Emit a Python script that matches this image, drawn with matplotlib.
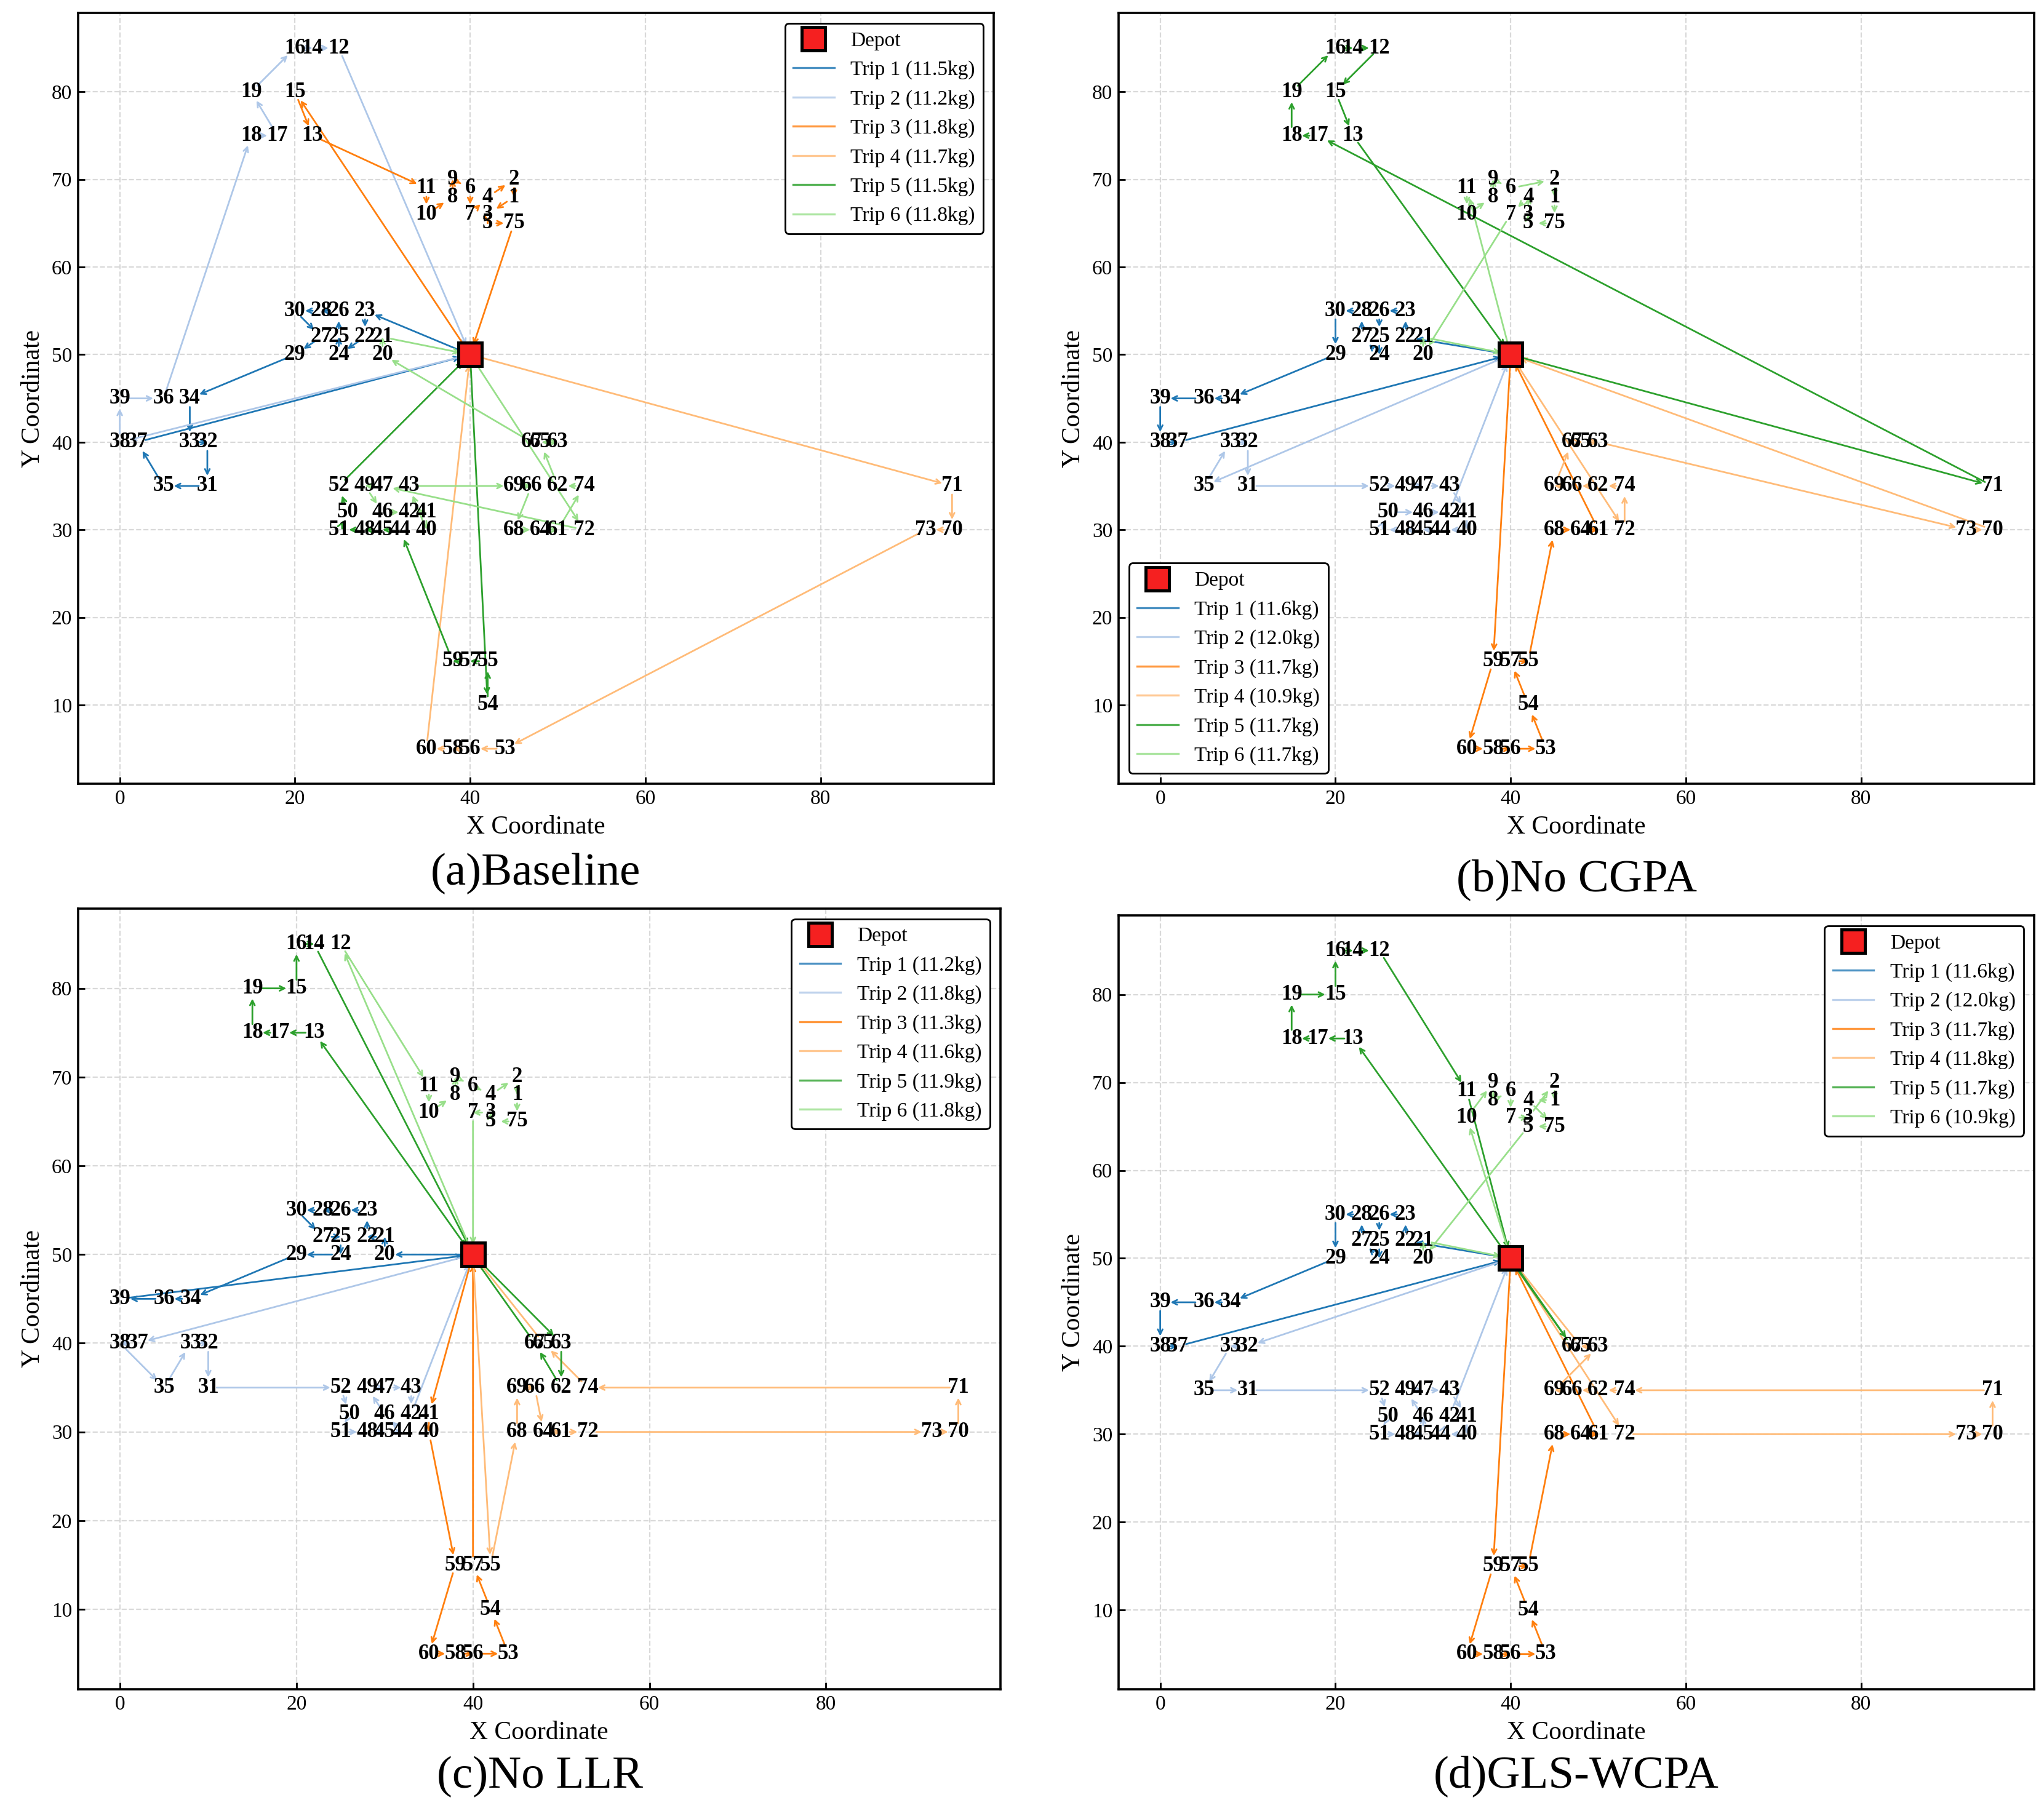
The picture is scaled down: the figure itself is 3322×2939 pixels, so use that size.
import matplotlib
matplotlib.use('Agg')
import matplotlib.pyplot as plt
from matplotlib.lines import Line2D

plt.rcParams['font.family'] = ['Liberation Serif', 'DejaVu Serif']

# ---------------- data ----------------
depot_x, depot_y = 40, 50
node_ids = list(range(1, 76))
node_x = [45, 45, 42, 42, 42, 40, 40, 38, 38, 35, 35, 25, 22, 22, 20, 20, 18, 15, 15, 30,
          30, 28, 28, 25, 25, 25, 23, 23, 20, 20, 10, 10, 8, 8, 5, 5, 2, 0, 0, 35,
          35, 33, 33, 32, 30, 30, 30, 28, 28, 26, 25, 25, 44, 42, 42, 40, 40, 38, 38, 35,
          50, 50, 50, 48, 48, 47, 47, 45, 45, 95, 95, 53, 92, 53, 45]
node_y = [68, 70, 66, 68, 65, 69, 66, 68, 70, 66, 69, 85, 75, 85, 80, 85, 75, 75, 80, 50,
          52, 52, 55, 50, 52, 55, 52, 55, 50, 55, 35, 40, 40, 45, 35, 45, 40, 40, 45, 30,
          32, 32, 35, 30, 30, 32, 35, 30, 35, 32, 30, 35, 5, 10, 15, 5, 15, 5, 15, 5,
          30, 35, 40, 30, 40, 35, 40, 30, 35, 30, 35, 30, 30, 35, 65]

trip_colors = ['#1f77b4', '#aec7e8', '#ff7f0e', '#ffbb78', '#2ca02c', '#98df8a']

titles = ['(a)Baseline', '(b)No CGPA', '(c)No LLR', '(d)GLS-WCPA']
legend_locs = ['upper right', 'lower left', 'upper right', 'upper right']

loads_a = [11.5, 11.2, 11.8, 11.7, 11.5, 11.8]
loads_b = [11.6, 12.0, 11.7, 10.9, 11.7, 11.7]
loads_c = [11.2, 11.8, 11.3, 11.6, 11.9, 11.8]
loads_d = [11.6, 12.0, 11.7, 11.8, 11.7, 10.9]

routes_a = [
    [23, 22, 24, 25, 26, 28, 30, 27, 29, 34, 33, 32, 31, 35, 37],
    [38, 39, 36, 18, 17, 19, 16, 14, 12],
    [15, 13, 11, 10, 8, 9, 6, 7, 4, 2, 1, 3, 5, 75],
    [71, 70, 73, 53, 56, 58, 60],
    [54, 55, 57, 59, 44, 45, 48, 51, 50, 52],
    [72, 47, 49, 46, 42, 41, 40, 43, 69, 66, 68, 64, 61, 74, 62, 65, 63, 67, 20, 21],
]
routes_b = [
    [22, 23, 26, 25, 24, 27, 28, 30, 29, 34, 36, 39, 38, 37],
    [35, 33, 32, 31, 52, 49, 47, 43, 41, 40, 44, 45, 48, 51, 50, 46, 42],
    [59, 60, 58, 56, 53, 54, 57, 55, 68, 64, 61],
    [72, 74, 62, 66, 69, 67, 65, 63, 73, 70],
    [71, 17, 18, 19, 16, 14, 12, 15, 13],
    [11, 10, 8, 9, 6, 2, 1, 75, 5, 3, 4, 7, 20, 21],
]
routes_c = [
    [20, 21, 22, 23, 26, 28, 30, 27, 25, 24, 29, 34, 36, 39],
    [37, 38, 35, 33, 32, 31, 52, 50, 51, 48, 45, 44, 46, 49, 47, 43, 42],
    [41, 40, 59, 60, 58, 56, 53, 54, 57],
    [55, 68, 69, 66, 64, 61, 72, 73, 70, 71, 74, 65],
    [63, 62, 67, 13, 17, 18, 19, 15, 16, 14],
    [12, 11, 10, 8, 9, 6, 4, 2, 1, 75, 5, 3, 7],
]
routes_d = [
    [22, 23, 26, 25, 24, 27, 28, 30, 29, 34, 36, 39, 38, 37],
    [32, 33, 35, 31, 52, 50, 51, 48, 45, 46, 49, 47, 43, 41, 40, 44, 42],
    [59, 60, 58, 56, 53, 54, 57, 55, 68, 64, 61],
    [72, 73, 70, 71, 74, 62, 66, 69, 63, 65],
    [67, 13, 17, 18, 19, 15, 16, 14, 12, 11],
    [10, 9, 8, 6, 7, 3, 2, 1, 4, 75, 5, 20, 21],
]

all_routes = [routes_a, routes_b, routes_c, routes_d]
all_loads = [loads_a, loads_b, loads_c, loads_d]

# ---------------- layout ----------------
W, H = 3323, 2939
fig = plt.figure(figsize=(W / 200, H / 200), dpi=200)

axes_rects = [
    [0.0382, 0.5665, 0.4478, 0.4263],
    [0.5471, 0.5665, 0.4478, 0.4263],
    [0.0382, 0.0657, 0.4510, 0.4318],
    [0.5471, 0.0657, 0.4478, 0.4280],
]
title_pos = [(0.262, 0.5168), (0.771, 0.5134), (0.264, 0.0173), (0.771, 0.0176)]


def coord(n):
    if n == 0:
        return depot_x, depot_y
    i = node_ids.index(n)
    return node_x[i], node_y[i]


for k in range(4):
    ax = fig.add_axes(axes_rects[k])
    routes = all_routes[k]
    loads = all_loads[k]

    # node labels
    for n, x, y in zip(node_ids, node_x, node_y):
        ax.text(x, y, str(n), ha='center', va='center', fontsize=12.5,
                fontweight='bold', color='black', zorder=6)

    handles = []
    dep, = ax.plot([depot_x], [depot_y], linestyle='none', marker='s', markersize=14,
                   markerfacecolor='#f52020', markeredgecolor='black',
                   markeredgewidth=1.8, zorder=10, label='Depot')
    handles.append(dep)

    for t, route in enumerate(routes):
        c = trip_colors[t]
        path = [0] + route + [0]
        for p, q in zip(path[:-1], path[1:]):
            ax.annotate('', xy=coord(q), xytext=coord(p),
                        arrowprops=dict(arrowstyle='->', color=c, lw=1.0,
                                        shrinkA=5, shrinkB=6, mutation_scale=7),
                        zorder=3)
        handles.append(Line2D([], [], color=c, lw=1.2, alpha=0.8,
                              label=f'Trip {t + 1} ({loads[t]:.1f}kg)'))

    ax.set_xlim(-4.75, 99.75)
    ax.set_ylim(1, 89)
    ax.set_xticks([0, 20, 40, 60, 80])
    ax.set_yticks([10, 20, 30, 40, 50, 60, 70, 80])
    ax.tick_params(direction='in', labelsize=12, length=4, width=1)
    ax.grid(True, linestyle='--', color='#d0d0d0', linewidth=0.8, alpha=0.8)
    ax.set_axisbelow(True)
    for s in ax.spines.values():
        s.set_linewidth(1.3)
        s.set_color('black')
    ax.set_xlabel('X Coordinate', fontsize=15)
    ax.set_ylabel('Y Coordinate', fontsize=15)

    leg = ax.legend(handles=handles, loc=legend_locs[k], fontsize=12,
                    frameon=True, framealpha=1, edgecolor='black')
    leg.get_frame().set_linewidth(1.0)

    fig.text(title_pos[k][0], title_pos[k][1], titles[k], ha='center', va='center',
             fontsize=27)

fig.savefig('out.png', dpi=200)
